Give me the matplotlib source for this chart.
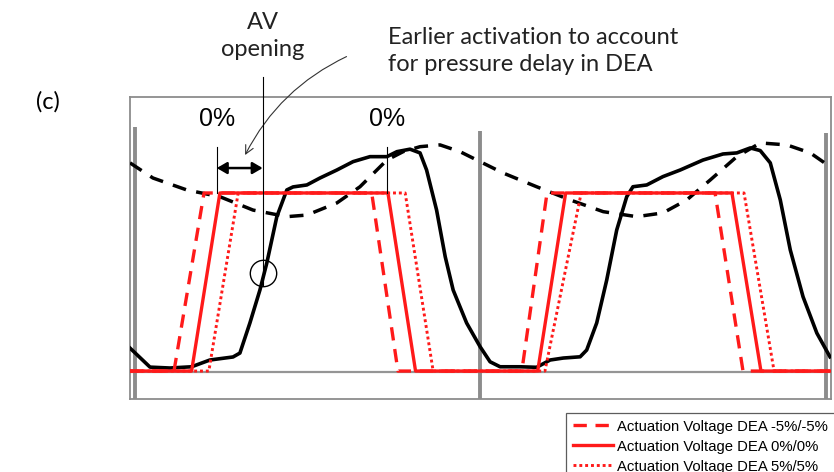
import numpy as np
import matplotlib.pyplot as plt

# x: percent of the cardiac cycle, y: normalised amplitude (0 = rest, 1 = full voltage)
x_left, x_right = -1.45, 201.7
y_bottom, y_top = -0.157, 1.539

# actuation voltage, three timings
volt_x_m5 = [-1.45, 11.3, 20.0, 68.6, 76.2, 112.1, 119.4, 168.1, 176.2, 201.7]
volt_x_0 = [-1.45, 16.4, 24.6, 73.3, 81.3, 116.7, 124.8, 173.0, 181.4, 201.7]
volt_x_p5 = [-1.45, 21.4, 29.9, 78.3, 86.4, 118.8, 129.3, 176.5, 185.2, 201.7]
volt_y = [0, 0, 1, 1, 0, 0, 1, 1, 0, 0]

# ventricular pressure (solid black)
lvp_x = [-1.45, 4.35, 10.1, 16.4, 21.7, 28.4, 30.4, 33.3, 36.2, 38.2, 41.1, 44.0,
         45.8, 49.8, 53.6, 58.5, 63.2, 68.1, 73.0, 75.9, 79.7, 82.6, 84.5, 87.4,
         89.9, 92.2, 96.1, 100.0, 102.9, 105.8, 111.6, 116.4, 120.3, 124.1, 129.0,
         130.9, 133.8, 136.7, 139.6, 142.5, 144.3, 148.3, 153.0, 158.0, 164.6,
         170.4, 174.4, 178.3, 181.2, 184.1, 187.0, 189.9, 193.6, 197.6, 201.4]
lvp_y = [0.129, 0.022, 0.017, 0.024, 0.062, 0.079, 0.101, 0.270, 0.455, 0.607,
         0.867, 1.017, 1.034, 1.045, 1.084, 1.129, 1.176, 1.204, 1.204, 1.232,
         1.246, 1.225, 1.129, 0.904, 0.642, 0.455, 0.270, 0.137, 0.052, 0.024,
         0.024, 0.021, 0.062, 0.073, 0.080, 0.118, 0.270, 0.511, 0.792, 0.979,
         1.035, 1.045, 1.092, 1.129, 1.185, 1.219, 1.225, 1.253, 1.238, 1.169,
         0.961, 0.680, 0.417, 0.213, 0.080]

# aortic pressure (dashed black)
aop_x = [-1.45, 5.2, 15.0, 24.6, 34.2, 44.0, 49.8, 58.5, 65.2, 73.0, 77.7, 82.6,
         88.4, 94.2, 100.0, 106.7, 116.4, 126.1, 135.7, 145.4, 153.0, 159.9,
         166.7, 174.4, 181.2, 188.9, 195.7, 201.4]
aop_y = [1.169, 1.084, 1.017, 0.979, 0.904, 0.867, 0.876, 0.944, 1.035, 1.185,
         1.232, 1.260, 1.270, 1.232, 1.176, 1.112, 1.035, 0.961, 0.895, 0.867,
         0.888, 0.961, 1.073, 1.204, 1.281, 1.270, 1.225, 1.148]

# trigger markers
trig_x = [0.0, 100.0, 200.3]
trig_top = [1.371, 1.348, 1.337]

pct_x = [23.7, 73.0]
pct_labels = ['0%', '0%']
av_open_x = 37.0
av_open_y = 0.551

fig = plt.figure(figsize=(8.34, 4.72), dpi=100)
ax = fig.add_axes([130 / 834, 1 - 399 / 472, 701 / 834, 302 / 472])
ax.set_xlim(x_left, x_right)
ax.set_ylim(y_bottom, y_top)
ax.set_xticks([])
ax.set_yticks([])
for s in ax.spines.values():
    s.set_color('#8c8c8c')
    s.set_linewidth(1.3)

ax.plot([x_left, x_right], [-0.008, -0.008], color='#959595', lw=1.6, zorder=1)
ax.vlines(trig_x, y_bottom, trig_top, color='#8c8c8c', lw=2.8, zorder=2)

ax.plot(aop_x, aop_y, color='black', lw=2.5, dashes=(4, 3), zorder=3)
ax.plot(lvp_x, lvp_y, color='black', lw=2.6, solid_joinstyle='round', zorder=3)

ln_m5, = ax.plot(volt_x_m5, volt_y, color='#ff1a1a', lw=2.4, dashes=(4, 2.6), zorder=4,
                 label='Actuation Voltage DEA -5%/-5%')
ln_p5, = ax.plot(volt_x_p5, volt_y, color='#ff1a1a', lw=2.1, dashes=(1, 1), zorder=4,
                 label='Actuation Voltage DEA 5%/5%')
ln_0, = ax.plot(volt_x_0, volt_y, color='#ff1a1a', lw=2.4, zorder=5,
                label='Actuation Voltage DEA 0%/0%')

# timing marks and labels
for px, lab in zip(pct_x, pct_labels):
    ax.plot([px, px], [1.0, 1.258], color='black', lw=0.8, zorder=6)
    ax.text(px, 1.416, lab, ha='center', va='center', fontsize=18,
            family='Liberation Sans')

ax.annotate('', xy=(pct_x[0], 1.140), xytext=(av_open_x, 1.140),
            arrowprops=dict(arrowstyle='<|-|>,head_length=0.6,head_width=0.35',
                            color='black', lw=1.8, shrinkA=0, shrinkB=0))
ax.plot([av_open_x, av_open_x], [0.483, 1.652], color='black', lw=0.8,
        clip_on=False, zorder=6)
ax.plot([av_open_x], [av_open_y], marker='o', ms=19, mfc='none', mec='black',
        mew=1.0, zorder=6)

ax.annotate('', xy=(31.9, 1.213), xytext=(61.3, 1.766),
            arrowprops=dict(arrowstyle='->,head_length=0.6,head_width=0.3',
                            color='#333333', lw=0.8, shrinkA=0, shrinkB=0,
                            connectionstyle='arc3,rad=0.17'),
            annotation_clip=False)

fig.text(263 / 834, 1 - 36 / 472, 'AV\nopening', ha='center', va='center',
         fontsize=17, family='Lato', linespacing=1.35, color='#222222')
fig.text(388 / 834, 1 - 51 / 472, 'Earlier activation to account\nfor pressure delay in DEA',
         ha='left', va='center', fontsize=17, family='Lato', linespacing=1.35,
         color='#222222')
fig.text(48 / 834, 1 - 102 / 472, '(c)', ha='center', va='center', fontsize=17,
         family='Lato')

leg = fig.legend(handles=[ln_m5, ln_0, ln_p5], loc='upper left',
                 bbox_to_anchor=(566 / 834, 1 - 413 / 472), borderaxespad=0,
                 frameon=True, fancybox=False, prop={'family': 'Liberation Sans', 'size': 10.7},
                 handlelength=2.7, handletextpad=0.3, labelspacing=0.4, borderpad=0.45)
leg.get_frame().set_edgecolor('#333333')
leg.get_frame().set_linewidth(0.9)

fig.savefig('out.png', dpi=100)
